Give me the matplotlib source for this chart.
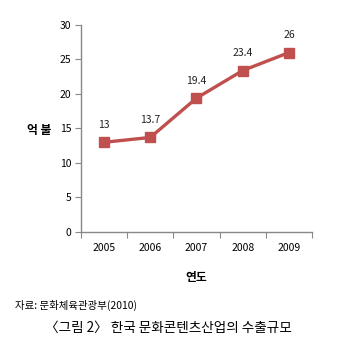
import numpy as np
import matplotlib.pyplot as plt

plt.rcParams['font.family'] = ['Noto Sans CJK KR', 'DejaVu Sans']

years = ['2005', '2006', '2007', '2008', '2009']
exports = [13, 13.7, 19.4, 23.4, 26]
value_labels = ['13', '13.7', '19.4', '23.4', '26']

fig = plt.figure(figsize=(3.55, 3.52), dpi=100)
ax = fig.add_axes([0.228, 0.341, 0.651, 0.588])

x = np.arange(len(years))
ax.plot(x, exports, color='#C0504D', lw=2.4, marker='s', markersize=6.5,
        markerfacecolor='#C0504D', markeredgecolor='#C0504D')
for xi, v, t in zip(x, exports, value_labels):
    ax.annotate(t, (xi, v), xytext=(0, 9), textcoords='offset points',
                ha='center', va='bottom', fontsize=7.5, color='#222222')

ax.set_xlim(-0.5, len(years) - 0.5)
ax.set_ylim(0, 30)
ax.set_yticks(range(0, 31, 5))
ax.set_xticks(np.arange(-0.5, len(years), 1))
ax.set_xticklabels([])
ax.set_xticks(x, minor=True)
ax.set_xticklabels(years, minor=True)
ax.tick_params(axis='x', which='minor', length=0, pad=8, labelsize=7.5)
ax.tick_params(axis='x', which='major', length=4, color='#888888')
ax.tick_params(axis='y', length=4, color='#888888', labelsize=7.5, pad=3)
for s in ['top', 'right']:
    ax.spines[s].set_visible(False)
for s in ['left', 'bottom']:
    ax.spines[s].set_color('#888888')
    ax.spines[s].set_linewidth(1.0)

fig.text(39 / 355, 1 - 130 / 352, '억 불', fontsize=8.5, fontweight='bold',
         ha='center', va='center')
fig.text(196 / 355, 1 - 278 / 352, '연도', fontsize=8.5, fontweight='bold',
         ha='center', va='center')
fig.text(15 / 355, 1 - 305 / 352, '자료: 문화체육관광부(2010)', fontsize=7.5,
         ha='left', va='center')
fig.text(168 / 355, 1 - 328 / 352, '〈그림 2〉 한국 문화콘텐츠산업의 수출규모',
         fontsize=9.8, ha='center', va='center')

fig.savefig('out.png', dpi=100)
